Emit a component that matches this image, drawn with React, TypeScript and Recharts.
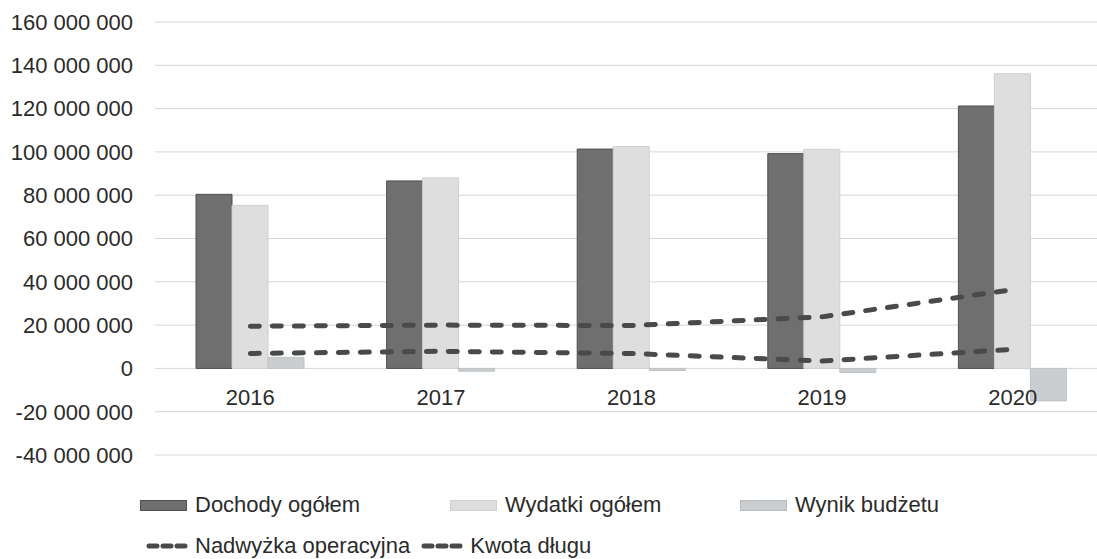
import React from 'react';
import { ComposedChart, Bar, Line, XAxis, YAxis, CartesianGrid } from 'recharts';

const years = ['2016', '2017', '2018', '2019', '2020'];
const dochody = [80.4e6, 86.6e6, 101.3e6, 99.2e6, 121.2e6];
const wydatki = [75.3e6, 88.0e6, 102.5e6, 101.2e6, 136.1e6];
const wynik = [5.1e6, -1.3e6, -1.0e6, -1.9e6, -15.0e6];
const nadwyzka = [6.9e6, 7.9e6, 6.9e6, 3.4e6, 8.8e6];
const kwotaDlugu = [19.5e6, 20.0e6, 19.8e6, 23.8e6, 36.4e6];
const yTicks = [-40e6, -20e6, 0, 20e6, 40e6, 60e6, 80e6, 100e6, 120e6, 140e6, 160e6];

const barNames = ['Dochody ogółem', 'Wydatki ogółem', 'Wynik budżetu'];
const lineNames = ['Nadwyżka operacyjna', 'Kwota długu'];

const data = years.map((y, i) => ({
  year: y,
  dochody: dochody[i],
  wydatki: wydatki[i],
  wynik: wynik[i],
  nadwyzka: nadwyzka[i],
  dlug: kwotaDlugu[i],
}));

const FONT = '"Liberation Sans", Arial, sans-serif';
const TEXT = '#2b2b2b';
const C_DOCH = '#6f6f6f';
const C_DOCH_S = '#4f4f4f';
const C_WYD = '#dedede';
const C_WYN = '#cbced0';
const C_LINE = '#4a4a4a';

const fmt = (v: number) => {
  const s = Math.abs(v).toString().replace(/\B(?=(\d{3})+(?!\d))/g, ' ');
  return (v < 0 ? '-' : '') + s;
};

const renderXTick = (props: any) => {
  const { x, y, payload } = props;
  return (
    <text x={x} y={y - 50} textAnchor="middle" fill={TEXT} fontSize={22} fontFamily={FONT}>
      {payload.value}
    </text>
  );
};

const Swatch = ({ color, stroke }: { color: string; stroke: string }) => (
  <span
    style={{
      display: 'inline-block',
      width: 47,
      height: 11,
      background: color,
      border: `1px solid ${stroke}`,
      boxSizing: 'border-box',
      marginRight: 8,
    }}
  />
);

const DashIcon = () => (
  <svg width={44} height={10} style={{ marginRight: 6, display: 'inline-block' }}>
    <line x1={4} y1={5} x2={40} y2={5} stroke={C_LINE} strokeWidth={5} strokeDasharray="8 6" strokeLinecap="round" />
  </svg>
);

export default function App() {
  return (
    <div style={{ position: 'absolute', left: 0, top: 0, width: 1097, height: 559, overflow: 'hidden', background: '#fff', fontFamily: FONT }}>
      <ComposedChart
        width={1110}
        height={559}
        data={data}
        margin={{ top: 22, right: 2, bottom: 84, left: 0 }}
        barGap={0}
        barCategoryGap="21.7%"
      >
        <CartesianGrid horizontal vertical={false} stroke="#d6d6d6" strokeWidth={1} />
        <XAxis
          dataKey="year"
          axisLine={false}
          tickLine={false}
          tickSize={0}
          tickMargin={0}
          height={20}
          tick={renderXTick}
          interval={0}
        />
        <YAxis
          domain={[-40e6, 160e6]}
          ticks={yTicks}
          tickFormatter={fmt}
          axisLine={false}
          tickLine={false}
          tickSize={0}
          tickMargin={22}
          width={155}
          interval={0}
          tick={{ fill: TEXT, fontSize: 22, fontFamily: FONT }}
        />
        <Bar dataKey="dochody" name={barNames[0]} fill={C_DOCH} stroke={C_DOCH_S} strokeWidth={1} barSize={36} isAnimationActive={false} />
        <Bar dataKey="wydatki" name={barNames[1]} fill={C_WYD} stroke="#cfcfcf" strokeWidth={1} barSize={36} isAnimationActive={false} />
        <Bar dataKey="wynik" name={barNames[2]} fill={C_WYN} stroke="#bfc2c4" strokeWidth={1} barSize={36} isAnimationActive={false} />
        <Line
          dataKey="nadwyzka"
          name={lineNames[0]}
          stroke={C_LINE}
          strokeWidth={5}
          strokeDasharray="9 13"
          strokeLinecap="round"
          dot={false}
          activeDot={false}
          isAnimationActive={false}
        />
        <Line
          dataKey="dlug"
          name={lineNames[1]}
          stroke={C_LINE}
          strokeWidth={5}
          strokeDasharray="9 13"
          strokeLinecap="round"
          dot={false}
          activeDot={false}
          isAnimationActive={false}
        />
      </ComposedChart>
      <div style={{ position: 'absolute', left: 140, top: 494, height: 22, display: 'flex', alignItems: 'center', fontSize: 22, lineHeight: '22px', color: TEXT, whiteSpace: 'nowrap' }}>
        <span style={{ display: 'flex', alignItems: 'center', width: 310 }}>
          <Swatch color={C_DOCH} stroke={C_DOCH_S} />
          {barNames[0]}
        </span>
        <span style={{ display: 'flex', alignItems: 'center', width: 290 }}>
          <Swatch color={C_WYD} stroke="#d2d2d2" />
          {barNames[1]}
        </span>
        <span style={{ display: 'flex', alignItems: 'center' }}>
          <Swatch color={C_WYN} stroke="#b9bcbe" />
          {barNames[2]}
        </span>
      </div>
      <div style={{ position: 'absolute', left: 145, top: 535, height: 22, display: 'flex', alignItems: 'center', fontSize: 22, lineHeight: '22px', color: TEXT, whiteSpace: 'nowrap' }}>
        <span style={{ display: 'flex', alignItems: 'center' }}>
          <DashIcon />
          {lineNames[0]}
        </span>
        <span style={{ display: 'flex', alignItems: 'center', marginLeft: 10 }}>
          <DashIcon />
          {lineNames[1]}
        </span>
      </div>
    </div>
  );
}
